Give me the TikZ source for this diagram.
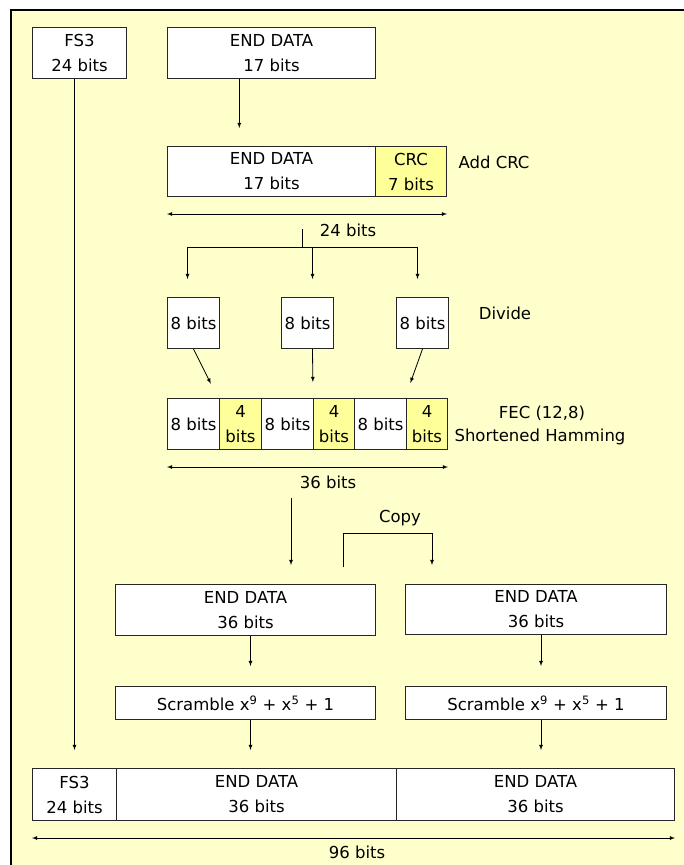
\documentclass[tikz,border=0pt]{standalone}
\usepackage{fontspec}
\setmainfont{DejaVu Sans}
\usetikzlibrary{calc}
\definecolor{paper}{HTML}{FFFFCC}
\definecolor{crcfill}{HTML}{FFFF99}
\tikzset{
  cell/.style={draw=black!85, line width=1pt, fill=white, anchor=north west,
    inner sep=0pt, align=center, font=\fontsize{16.5}{25}\selectfont},
  crccell/.style={cell, fill=crcfill},
  arr/.style={->, >=latex, line width=0.8pt},
  span/.style={<->, >=latex, line width=0.8pt},
  lbl/.style={font=\fontsize{16.5}{25}\selectfont, inner sep=0pt}
}
\begin{document}
\begin{tikzpicture}[x=1pt,y=-1pt]
    \useasboundingbox (0,0) rectangle (684,865);
    \fill[paper] (11,10) rectangle (684,865);
    \draw[line width=1.2pt] (11,865) -- (11,10) -- (684,10);

    % source fields
    \node[cell, minimum width=94, minimum height=51] (fs) at (32,27) {FS3\\24 bits};
    \node[cell, minimum width=208, minimum height=51] (endA) at (167,27) {END DATA\\17 bits};

    % add CRC
    \node[cell, minimum width=208, minimum height=50] (endB) at (167,146) {END DATA\\17 bits};
    \node[crccell, minimum width=71, minimum height=50] (crc) at (375,146) {CRC\\7 bits};
    \node[lbl] (addcrc) at (494,162) {Add CRC};
    \draw[arr, shorten >=18pt] ($(endA.south west)!0.346!(endA.south east)$) coordinate (a1)
        -- (a1 |- endB.north);
    \draw[span] ([yshift=-17pt]endB.south west) -- ([yshift=-17pt]crc.south east);
    \node[lbl] (w24) at (348,230) {24 bits};

    % divide
    \node[cell, minimum width=52, minimum height=51] (b1) at (167,297) {8 bits};
    \node[cell, minimum width=52, minimum height=51] (b2) at (281,297) {8 bits};
    \node[cell, minimum width=52, minimum height=51] (b3) at (396,297) {8 bits};
    \node[lbl] (divide) at (505,313) {Divide};
    \coordinate (split) at (302,247);
    \draw[line width=0.8pt] (split) -- ++(0,-18);
    \draw[arr, shorten >=18pt] (split) -| ([xshift=-6pt]b1.north);
    \draw[arr, shorten >=18pt] (split) -| ([xshift=5pt]b2.north);
    \draw[arr, shorten >=18pt] (split) -| ([xshift=-5pt]b3.north);

    % FEC (12,8)
    \node[cell, minimum width=52, minimum height=51] (d1) at (167,398) {8 bits};
    \node[crccell, minimum width=42, minimum height=51] (p1) at (219,398) {4\\bits};
    \node[cell, minimum width=52, minimum height=51] (d2) at (261,398) {8 bits};
    \node[crccell, minimum width=41, minimum height=51] (p2) at (313,398) {4\\bits};
    \node[cell, minimum width=52, minimum height=51] (d3) at (354,398) {8 bits};
    \node[crccell, minimum width=41, minimum height=51] (p3) at (406,398) {4\\bits};
    \node[lbl] (fec) at (542,413) {FEC (12,8)};
    \node[lbl] (ham) at (540,437) {Shortened Hamming};
    \draw[arr, shorten >=16pt] (b1.south) -- ([xshift=-1pt]p1.north west);
    \draw[arr, shorten >=16pt] ([xshift=5pt]b2.south) -- (p2.north west);
    \draw[arr, shorten >=16pt] (b3.south) -- ([xshift=-1pt]p3.north west);
    \draw[span] ([yshift=-17pt]d1.south west) -- ([yshift=-17pt]p3.south east);
    \node[lbl] (w36) at (328,482) {36 bits};

    % copy
    \node[cell, minimum width=260, minimum height=51] (endL) at (115,584) {END DATA\\36 bits};
    \node[cell, minimum width=261, minimum height=50] (endR) at (405,584) {END DATA\\36 bits};
    \node[lbl] (copy) at (400,518) {Copy};
    \coordinate (feed) at (291,498);
    \draw[arr, shorten >=19pt] (feed) -- (feed |- endL.north);
    \coordinate (tap) at (343,567);
    \draw[arr, shorten >=19pt] (tap) -- ++(0,-34) -| ([xshift=-104pt]endR.north);

    % scramble
    \node[cell, minimum width=260, minimum height=33] (scrL) at (115,686) {Scramble x\textsuperscript{9} + x\textsuperscript{5} + 1};
    \node[cell, minimum width=261, minimum height=33] (scrR) at (405,686) {Scramble x\textsuperscript{9} + x\textsuperscript{5} + 1};
    \draw[arr, shorten >=20pt] ([xshift=5pt]endL.south) -- ([xshift=5pt]scrL.north);
    \draw[arr, shorten >=20pt] ([xshift=5pt]endR.south) -- ([xshift=5pt]scrR.north);

    % output frame
    \node[cell, minimum width=84, minimum height=52] (rfs) at (32,768) {FS3\\24 bits};
    \node[cell, minimum width=280, minimum height=52] (rL) at (116,768) {END DATA\\36 bits};
    \node[cell, minimum width=278, minimum height=52] (rR) at (396,768) {END DATA\\36 bits};
    \draw[arr, shorten >=18pt] (rfs.north |- fs.south) -- (rfs.north);
    \draw[arr, shorten >=18pt] ([xshift=5pt]scrL.south) -- ([xshift=5pt]scrL.south |- rL.north);
    \draw[arr, shorten >=18pt] ([xshift=5pt]scrR.south) -- ([xshift=5pt]scrR.south |- rR.north);
    \draw[span] ([yshift=-17pt]rfs.south west) -- ([yshift=-17pt]rR.south east);
    \node[lbl] (w96) at (357,852) {96 bits};
\end{tikzpicture}
\end{document}
